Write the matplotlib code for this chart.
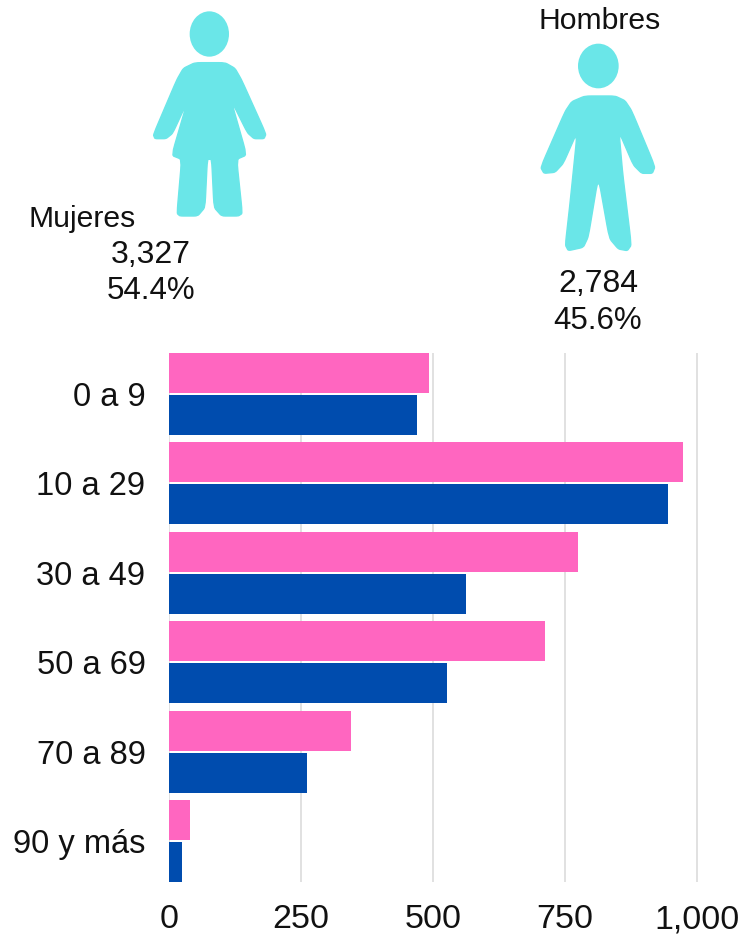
import matplotlib
matplotlib.use('Agg')
import matplotlib.pyplot as plt
from matplotlib.patches import Polygon, Ellipse
import numpy as np

grupos = ['0 a 9', '10 a 29', '30 a 49', '50 a 69', '70 a 89', '90 y más']
mujeres = [492, 973, 775, 712, 345, 40]
hombres = [470, 945, 562, 526, 261, 25]
ticks = [0, 250, 500, 750, 1000]
tick_labels = ['0', '250', '500', '750', '1,000']

W, H = 743, 936
rosa = '#FF66C0'
azul = '#004CAE'
cian = '#6AE6E8'
gris = '#DCDCDC'
texto = '#111111'

mujer = [(195, 188), (285, 188), (315, 205), (335, 240), (408, 402), (402, 416), (372, 416), (352, 398),
         (303, 300), (350, 465), (320, 478), (337, 640), (325, 648), (275, 648), (252, 622), (245, 478),
         (232, 478), (225, 622), (203, 648), (150, 648), (141, 640), (155, 478), (125, 466), (172, 305),
         (128, 400), (108, 416), (75, 416), (70, 404), (140, 240), (160, 205)]
hombre = [(195, 198), (285, 198), (315, 212), (335, 242), (405, 410), (397, 430), (365, 430), (340, 405),
          (297, 305), (308, 430), (334, 645), (322, 662), (295, 657), (268, 625), (235, 440), (205, 620),
          (190, 652), (145, 662), (136, 645), (150, 520), (172, 305), (130, 400), (105, 427), (72, 430),
          (62, 412), (135, 245), (155, 215)]


def suavizar(pts, n=2):
    # esquinas redondeadas (Chaikin)
    p = np.array(pts, dtype=float)
    for _ in range(n):
        q = np.roll(p, -1, axis=0)
        p = np.column_stack([0.88 * p + 0.12 * q, 0.12 * p + 0.88 * q]).reshape(-1, 2)
    return p


def icono(ax, pts, ox, oy, cab, r):
    pts = suavizar(pts) / 3 + [ox, oy]
    ax.add_patch(Polygon(pts, closed=True, fc=cian, ec=cian, lw=1, joinstyle='round'))
    ax.add_patch(Ellipse((ox + cab[0] / 3, oy + cab[1] / 3), r[0] * 2 / 3, r[1] * 2 / 3, fc=cian, ec='none'))


fig = plt.figure(figsize=(W / 100, H / 100), dpi=100)

# capa de fondo en pixeles para las figuras y sus textos
bg = fig.add_axes([0, 0, 1, 1])
bg.set_xlim(0, W)
bg.set_ylim(H, 0)
bg.axis('off')
icono(bg, mujer, 130, 0, (238, 102), (59, 68))
icono(bg, hombre, 520, 30, (235, 108), (61, 67))

for x, y, s, fs in [(82, 219, 'Mujeres', 21.7), (151, 255, '3,327', 23), (151, 291, '54.4%', 22.5),
                    (600, 21, 'Hombres', 21.7), (598, 284, '2,784', 23), (598, 321, '45.6%', 22.5)]:
    bg.text(x, y, s, fontsize=fs, color=texto, ha='center', va='center', family='Liberation Sans')

# grafica de barras
left, right, top, bottom = 169, 743, 353, 882
ax = fig.add_axes([left / W, 1 - bottom / H, (right - left) / W, (bottom - top) / H])
ax.patch.set_alpha(0)
y = np.arange(len(grupos))
alto = 0.447
ax.barh(y - 0.235, mujeres, height=alto, color=rosa, zorder=3)
ax.barh(y + 0.235, hombres, height=alto, color=azul, zorder=3)

ax.set_xlim(0, (right - left) / 0.528)
ax.set_ylim(5 + 0.458, -0.458)
ax.set_xticks(ticks)
ax.set_xticklabels(tick_labels, fontsize=24.5, color=texto, family='Liberation Sans')
ax.set_yticks(y)
ax.set_yticklabels(grupos, fontsize=23.5, color=texto, family='Liberation Sans')
ax.tick_params(axis='both', length=0)
ax.tick_params(axis='x', pad=16)
ax.tick_params(axis='y', pad=17)
ax.grid(axis='x', color=gris, lw=1.2, zorder=0)
ax.set_axisbelow(True)
for s in ax.spines.values():
    s.set_visible(False)

fig.savefig('out.png', dpi=100)
